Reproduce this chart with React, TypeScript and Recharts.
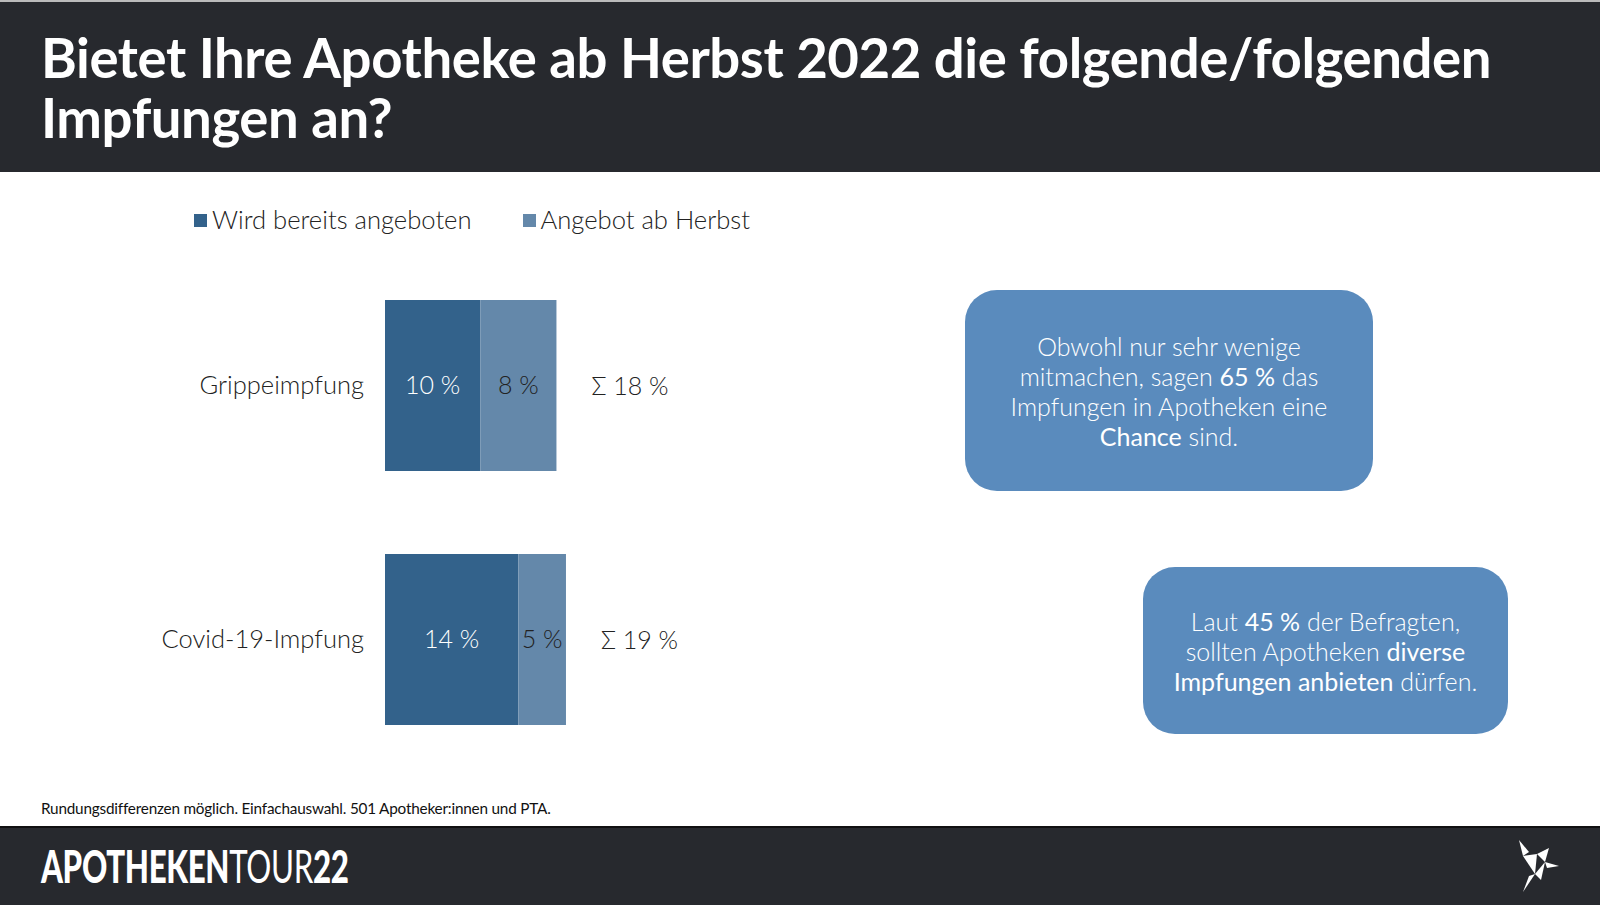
import React from "react";
import { BarChart, Bar, XAxis, YAxis, LabelList } from "recharts";

const categories = ["Grippeimpfung", "Covid-19-Impfung"];
const offeredNow = [10, 14];
const offeredAutumn = [8, 5];
const seriesNames = ["Wird bereits angeboten", "Angebot ab Herbst"];
const seriesColors = ["#33628b", "#6488aa"];

const FONT = "Lato, 'Open Sans', sans-serif";

const chartData = categories.map((c, i) => ({
    name: c,
    now: offeredNow[i],
    autumn: offeredAutumn[i],
    total: offeredNow[i] + offeredAutumn[i],
}));

function SumLabel(props: any) {
    const { x, y, width, height, index } = props;
    const total = chartData[index].total;
    return (
        <text x={x + width + 35} y={y + height / 2} dy={9} fill="#222" fontSize={25} fontFamily={FONT} fontWeight={300}>
            {`Σ ${total} %`}
        </text>
    );
}

function Bird() {
    return (
        <svg width={46} height={52} viewBox="0 0 46 52" style={{ position: "absolute", left: 1515, top: 840 }}>
            <polygon points="4,0 14,12 8,16" fill="#fff" />
            <polygon points="8,16 22,14 20,34" fill="#fff" />
            <polygon points="22,14 34,8 30,22" fill="#fff" />
            <polygon points="30,22 44,26 32,28" fill="#fff" />
            <polygon points="20,34 30,22 26,40" fill="#fff" />
            <polygon points="14,36 20,34 8,52" fill="#fff" />
        </svg>
    );
}

const boxStyle: React.CSSProperties = {
    position: "absolute",
    background: "#5a8bbd",
    borderRadius: 32,
    color: "#fff",
    fontFamily: FONT,
    fontWeight: 300,
    fontSize: 25,
    lineHeight: "30px",
    textAlign: "center",
    display: "flex",
    alignItems: "center",
    justifyContent: "center",
};

export default function App() {
    return (
        <div style={{ position: "absolute", left: 0, top: 0, width: 1600, height: 905, background: "#fff", overflow: "hidden", fontFamily: FONT }}>
            {/* header */}
            <div style={{ position: "absolute", left: 0, top: 0, width: 1600, height: 172, background: "#27292e", borderTop: "2px solid #bbb", boxSizing: "border-box" }}>
                <div style={{ position: "absolute", left: 41, top: 25, color: "#fff", fontWeight: 700, fontSize: 54.5, lineHeight: "60px", letterSpacing: -0.4, whiteSpace: "nowrap" }}>
                    Bietet Ihre Apotheke ab Herbst 2022 die folgende/folgenden
                    <br />
                    Impfungen an?
                </div>
            </div>

            {/* legend */}
            <div style={{ position: "absolute", left: 194, top: 204, display: "flex", alignItems: "center", fontSize: 25.6, fontWeight: 300, color: "#222" }}>
                {seriesNames.map((s, i) => (
                    <div key={s} style={{ display: "flex", alignItems: "center", marginRight: 51 }}>
                        <div style={{ width: 13, height: 13, background: seriesColors[i], marginRight: 5, marginTop: 3 }} />
                        <span>{s}</span>
                    </div>
                ))}
            </div>

            {/* chart */}
            <div style={{ position: "absolute", left: 0, top: 258 }}>
                <BarChart width={766} height={508} data={chartData} layout="vertical" margin={{ top: 0, right: 0, bottom: 0, left: 0 }}>
                    <XAxis type="number" domain={[0, 40]} hide />
                    <YAxis
                        type="category"
                        dataKey="name"
                        width={385}
                        axisLine={false}
                        tickLine={false}
                        tickSize={0}
                        tickMargin={21}
                        tick={{ fill: "#222", fontSize: 25.5, fontFamily: FONT, fontWeight: 300 }}
                    />
                    <Bar dataKey="now" stackId="a" fill={seriesColors[0]} barSize={171} isAnimationActive={false}>
                        <LabelList dataKey="now" position="center" formatter={(v: any) => `${v} %`} fill="#fff" fontSize={25} fontFamily={FONT} fontWeight={300} />
                    </Bar>
                    <Bar dataKey="autumn" stackId="a" fill={seriesColors[1]} barSize={171} isAnimationActive={false}>
                        <LabelList dataKey="autumn" position="center" formatter={(v: any) => `${v} %`} fill="#222" fontSize={25} fontFamily={FONT} fontWeight={300} />
                        <LabelList dataKey="total" content={<SumLabel />} />
                    </Bar>
                </BarChart>
            </div>

            {/* callouts */}
            <div style={{ ...boxStyle, left: 965, top: 290, width: 408, height: 201 }}>
                <div>
                    Obwohl nur sehr wenige
                    <br />
                    mitmachen, sagen <b>65 %</b> das
                    <br />
                    Impfungen in Apotheken eine
                    <br />
                    <b>Chance</b> sind.
                </div>
            </div>
            <div style={{ ...boxStyle, left: 1143, top: 567, width: 365, height: 167 }}>
                <div>
                    Laut <b>45 %</b> der Befragten,
                    <br />
                    sollten Apotheken <b>diverse</b>
                    <br />
                    <b>Impfungen anbieten</b> dürfen.
                </div>
            </div>

            {/* footnote */}
            <div style={{ position: "absolute", left: 41, top: 799, fontSize: 15.3, color: "#111", letterSpacing: -0.2 }}>
                Rundungsdifferenzen möglich. Einfachauswahl. 501 Apotheker:innen und PTA.
            </div>

            {/* footer */}
            <div style={{ position: "absolute", left: 0, top: 826, width: 1600, height: 79, background: "#27292e", borderTop: "2px solid #111", boxSizing: "border-box" }}>
                <div style={{ position: "absolute", left: 41, top: 14, color: "#fff", fontSize: 46, lineHeight: "48px", letterSpacing: -0.5, transform: "scaleX(0.68)", transformOrigin: "left center", whiteSpace: "nowrap" }}>
                    <span style={{ fontWeight: 900 }}>APOTHEKEN</span>
                    <span style={{ fontWeight: 400 }}>TOUR</span>
                    <span style={{ fontWeight: 900 }}>22</span>
                </div>
            </div>
            <Bird />
        </div>
    );
}
